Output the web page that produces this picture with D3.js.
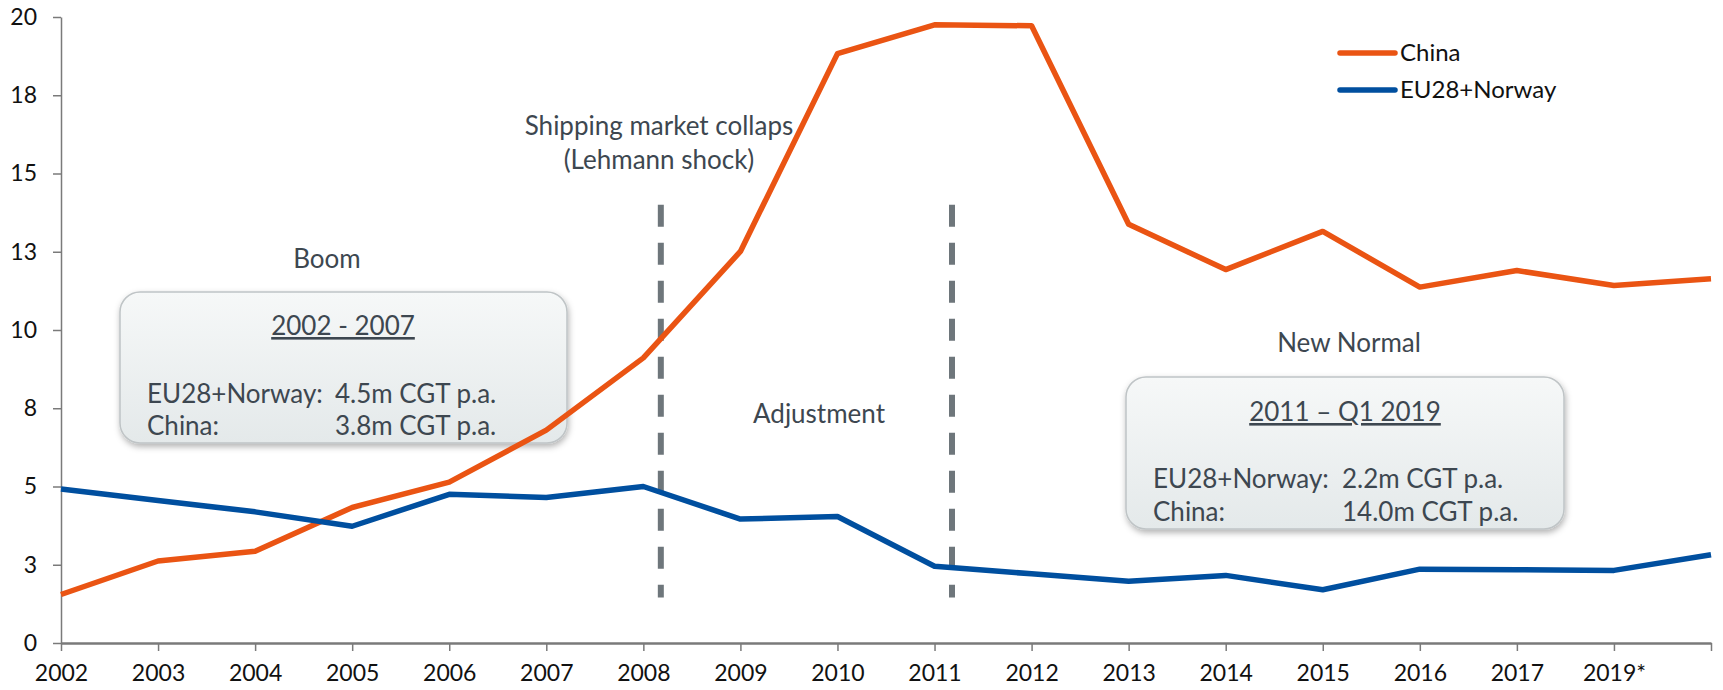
<!DOCTYPE html>
<html>
<head>
<meta charset="utf-8">
<script src="https://cdn.jsdelivr.net/npm/d3@7"></script>
<style>
	body{margin:0;background:#fff;}
	svg{display:block;}
	.axis text{font-family:Lato, "Liberation Sans", sans-serif;font-size:23px;fill:#111;}
	.note{font-family:Lato, "Open Sans", sans-serif;font-size:26px;fill:#3d4750;}
</style>
</head>
<body>
<svg id="chart" width="1723" height="690"></svg>
<script>
// values, million CGT
var years = ["2002","2003","2004","2005","2006","2007","2008","2009","2010","2011","2012","2013","2014","2015","2016","2017","2019*",""];
var china = [1.55,2.62,2.93,4.33,5.14,6.8,9.11,12.51,18.83,19.75,19.72,13.38,11.93,13.15,11.37,11.9,11.42,11.64];
var euNorway = [4.92,4.55,4.19,3.73,4.75,4.65,5.0,3.96,4.04,2.45,2.21,1.97,2.16,1.70,2.36,2.34,2.32,2.82];
var yTicks = [0,2.5,5,7.5,10,12.5,15,17.5,20];
var yTickLabels = ["0","3","5","8","10","13","15","18","20"];
var dividers = [6.18,9.18]; // dashed lines, in category index units

var svg = d3.select("#chart");
var margin = {top:17,right:12,bottom:47,left:61};
var width = 1723-margin.left-margin.right;
var height = 690-margin.top-margin.bottom;

var defs = svg.append("defs");
var grad = defs.append("linearGradient").attr("id","boxFill").attr("x1",0).attr("y1",0).attr("x2",0).attr("y2",1);
grad.append("stop").attr("offset","0%").attr("stop-color","#f6f8f8");
grad.append("stop").attr("offset","100%").attr("stop-color","#e4e9ea");
defs.append("filter").attr("id","shadow").attr("x","-10%").attr("y","-10%").attr("width","130%").attr("height","140%")
	.append("feDropShadow").attr("dx",1).attr("dy",3).attr("stdDeviation",3).attr("flood-color","#000").attr("flood-opacity",0.3);

var g = svg.append("g").attr("transform","translate("+margin.left+","+margin.top+")");

var x = d3.scaleLinear().domain([0,years.length-1]).range([0,width]);
var y = d3.scaleLinear().domain([0,20]).range([height,0]);

// axes
var yAxis = d3.axisLeft(y).tickValues(yTicks).tickFormat(function(d,i){return yTickLabels[i];}).tickSize(8).tickPadding(16).tickSizeOuter(0);
var xAxis = d3.axisBottom(x).tickValues(d3.range(years.length)).tickFormat(function(d){return years[d];}).tickSize(8).tickPadding(14).tickSizeOuter(0);

var gy = g.append("g").attr("class","axis").call(yAxis);
gy.select(".domain").attr("stroke","#7a7a7a").attr("stroke-width",1.5);
gy.selectAll(".tick line").attr("stroke","#7a7a7a").attr("stroke-width",1.5);

var gx = g.append("g").attr("class","axis").attr("transform","translate(0,"+height+")").call(xAxis);
gx.select(".domain").attr("stroke","#7a7a7a").attr("stroke-width",2.5);
gx.selectAll(".tick line").attr("stroke","#7a7a7a").attr("stroke-width",1.5);
gx.selectAll(".tick text").attr("dy","0.71em");

// dashed phase dividers
g.selectAll(".divider")
	.data(dividers)
	.enter()
	.append("line")
	.attr("class","divider")
	.attr("x1",function(d){return x(d);})
	.attr("x2",function(d){return x(d);})
	.attr("y1",y(14))
	.attr("y2",y(1.45))
	.attr("stroke","#6e767b")
	.attr("stroke-width",6)
	.attr("stroke-dasharray","22,16");

// boxes and notes
function box(bx,by,bw,bh,title,rows,valueX){
	g.append("rect").attr("x",bx).attr("y",by).attr("width",bw).attr("height",bh)
		.attr("rx",20).attr("ry",20)
		.attr("fill","url(#boxFill)").attr("stroke","#bfc4c6").attr("stroke-width",1.5)
		.attr("filter","url(#shadow)");
	g.append("text").attr("class","note").attr("x",title[0]).attr("y",title[1])
		.attr("text-anchor","middle").style("text-decoration","underline").text(title[2]);
	rows.forEach(function(r){
		g.append("text").attr("class","note").attr("x",bx+27).attr("y",r[0]).text(r[1]);
		g.append("text").attr("class","note").attr("x",valueX).attr("y",r[0]).text(r[2]);
	});
}

g.append("text").attr("class","note").attr("x",598).attr("y",118).attr("text-anchor","middle").text("Shipping market collaps");
g.append("text").attr("class","note").attr("x",598).attr("y",152).attr("text-anchor","middle").text("(Lehmann shock)");
g.append("text").attr("class","note").attr("x",266).attr("y",251).attr("text-anchor","middle").text("Boom");
g.append("text").attr("class","note").attr("x",692).attr("y",406).text("Adjustment");
g.append("text").attr("class","note").attr("x",1288).attr("y",335).attr("text-anchor","middle").text("New Normal");

box(59,275,447,151,[282,318,"2002 - 2007"],[[386,"EU28+Norway:","4.5m CGT p.a."],[418,"China:","3.8m CGT p.a."]],274);
box(1065,360,438,152,[1284,404,"2011 \u2013 Q1 2019"],[[471,"EU28+Norway:","2.2m CGT p.a."],[504,"China:","14.0m CGT p.a."]],1281);

// series lines
var line = d3.line().x(function(d,i){return x(i);}).y(function(d){return y(d);});
var series = [
	{name:"China",values:china,color:"#ea5413"},
	{name:"EU28+Norway",values:euNorway,color:"#004f9f"}
];

g.selectAll(".series")
	.data(series)
	.enter()
	.append("path")
	.attr("class","series")
	.attr("d",function(d){return line(d.values);})
	.attr("fill","none")
	.attr("stroke",function(d){return d.color;})
	.attr("stroke-width",5.5)
	.attr("stroke-linejoin","round");

// legend
var legend = g.selectAll(".legend")
	.data(series)
	.enter()
	.append("g")
	.attr("class","legend")
	.attr("transform",function(d,i){return "translate(1279,"+(36+i*37)+")";});
legend.append("line").attr("x1",0).attr("x2",55).attr("stroke",function(d){return d.color;}).attr("stroke-width",5.5).attr("stroke-linecap","round");
legend.append("text").attr("x",60).attr("dy","0.35em")
	.style("font-family","Lato, 'Liberation Sans', sans-serif").style("font-size","24px").attr("fill","#111")
	.text(function(d){return d.name;});
</script>
</body>
</html>
